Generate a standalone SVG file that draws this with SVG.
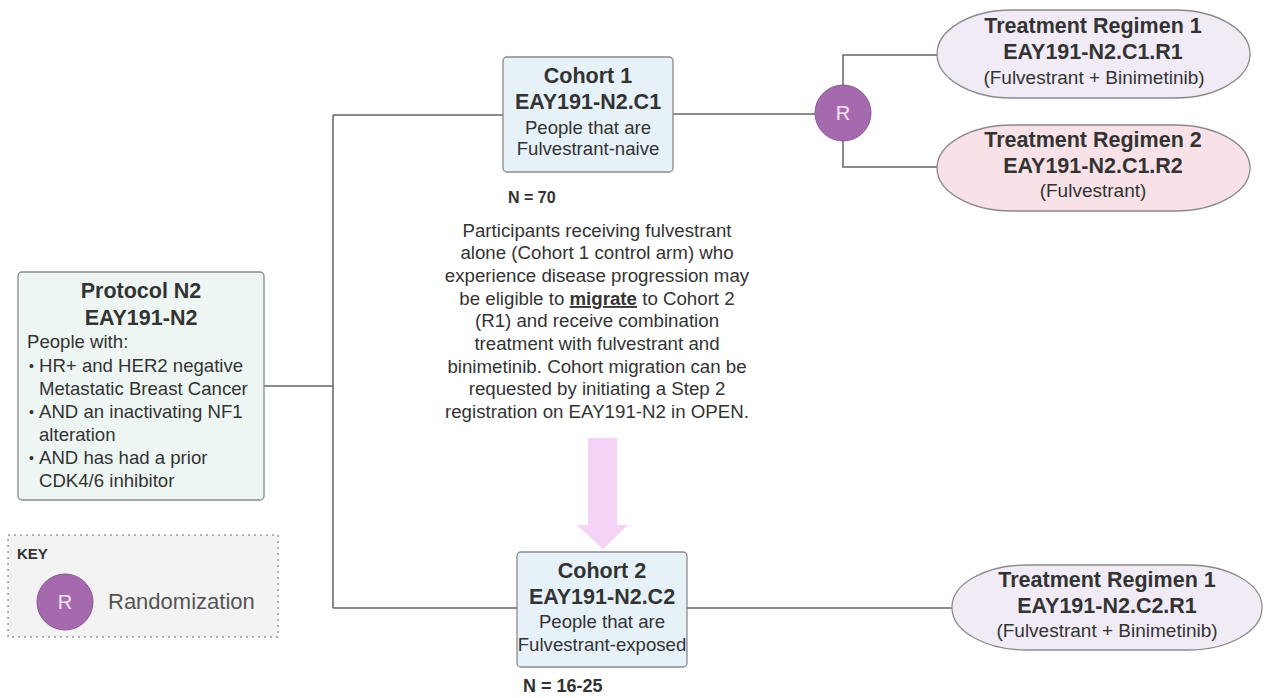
<svg xmlns="http://www.w3.org/2000/svg" width="1266" height="698" viewBox="0 0 1266 698">
<style>
text{font-family:"Liberation Sans",Arial,sans-serif;fill:#333;}
.t{font-size:21.5px;font-weight:bold;text-anchor:middle;}
.r{font-size:18.6px;text-anchor:middle;}
.s{font-size:19px;text-anchor:middle;}
.l{font-size:18.6px;}
.b{font-size:14px;}
.p{font-size:18.7px;text-anchor:middle;}
.n{font-size:16px;font-weight:bold;}
.n2{font-size:18px;font-weight:bold;}
.conn{fill:none;stroke:#666;stroke-width:1.5;}
.box{stroke:#8a8a8a;stroke-width:1.3;}
.rc{fill:#a56aae;stroke:#8d5597;stroke-width:1;}
.rt{font-size:20px;fill:#f5e4f5;text-anchor:middle;}
</style>
<rect width="1266" height="698" fill="#ffffff"/>
<g id="connectors">
<path class="conn" d="M264 386H333M333 115V608M333 115H503M333 608H517"/>
<path class="conn" d="M673 114H815M843 85V55H937M843 141V167H937"/>
<path class="conn" d="M687 608H952"/>
</g>
<g id="protocol">
<rect class="box" x="18" y="272" width="246" height="228" rx="4" fill="#eef6f4"/>
<text class="t" x="141" y="298">Protocol N2</text>
<text class="t" x="141" y="325">EAY191-N2</text>
<text class="l" x="27" y="348">People with:</text>
<text class="b" x="29" y="371">•</text>
<text class="l" x="39" y="372">HR+ and HER2 negative</text>
<text class="l" x="39" y="395">Metastatic Breast Cancer</text>
<text class="b" x="29" y="417">•</text>
<text class="l" x="39" y="418">AND an inactivating NF1</text>
<text class="l" x="39" y="441">alteration</text>
<text class="b" x="29" y="463">•</text>
<text class="l" x="39" y="464">AND has had a prior</text>
<text class="l" x="39" y="487">CDK4/6 inhibitor</text>
</g>
<g id="cohort1">
<rect class="box" x="503" y="57" width="170" height="115" rx="4" fill="#e6f1f8"/>
<text class="t" x="588" y="83">Cohort 1</text>
<text class="t" x="588" y="109">EAY191-N2.C1</text>
<text class="r" x="588" y="134">People that are</text>
<text class="r" x="588" y="155">Fulvestrant-naive</text>
<text class="n" x="508" y="203">N = 70</text>
</g>
<g id="migration-note">
<text class="p" x="597" y="237">Participants receiving fulvestrant</text>
<text class="p" x="597" y="259">alone (Cohort 1 control arm) who</text>
<text class="p" x="597" y="282">experience disease progression may</text>
<text class="p" x="597" y="305">be eligible to <tspan font-weight="bold" text-decoration="underline">migrate</tspan> to Cohort 2</text>
<text class="p" x="597" y="327">(R1) and receive combination</text>
<text class="p" x="597" y="350">treatment with fulvestrant and</text>
<text class="p" x="597" y="373">binimetinib. Cohort migration can be</text>
<text class="p" x="597" y="395">requested by initiating a Step 2</text>
<text class="p" x="597" y="418">registration on EAY191-N2 in OPEN.</text>
</g>
<g id="migrate-arrow">
<path d="M588 438H617V525H628L603 549L577 525H588Z" fill="#f4d3f6"/>
</g>
<g id="randomization">
<circle class="rc" cx="843" cy="113" r="28"/>
<text class="rt" x="843" y="120">R</text>
</g>
<g id="regimen-c1-r1">
<rect class="box" x="937" y="10" width="313" height="88" rx="75" ry="44" fill="#f1ebf6"/>
<text class="t" x="1093" y="33">Treatment Regimen 1</text>
<text class="t" x="1093" y="59">EAY191-N2.C1.R1</text>
<text class="s" x="1094" y="84">(Fulvestrant + Binimetinib)</text>
</g>
<g id="regimen-c1-r2">
<rect class="box" x="937" y="125" width="313" height="86" rx="75" ry="43" fill="#f8e2e7"/>
<text class="t" x="1093" y="147">Treatment Regimen 2</text>
<text class="t" x="1093" y="173">EAY191-N2.C1.R2</text>
<text class="s" x="1093" y="197">(Fulvestrant)</text>
</g>
<g id="cohort2">
<rect class="box" x="517" y="552" width="170" height="115" rx="4" fill="#e6f1f8"/>
<text class="t" x="602" y="578">Cohort 2</text>
<text class="t" x="602" y="604">EAY191-N2.C2</text>
<text class="r" x="602" y="628">People that are</text>
<text class="r" x="602" y="651">Fulvestrant-exposed</text>
<text class="n2" x="523" y="692">N = 16-25</text>
</g>
<g id="regimen-c2-r1">
<rect class="box" x="952" y="565" width="310" height="85" rx="75" ry="42" fill="#f1ebf6"/>
<text class="t" x="1107" y="587">Treatment Regimen 1</text>
<text class="t" x="1107" y="613">EAY191-N2.C2.R1</text>
<text class="s" x="1107" y="637">(Fulvestrant + Binimetinib)</text>
</g>
<g id="key">
<rect x="8" y="535" width="270" height="102" fill="#f3f3f3" stroke="#999" stroke-width="1.5" stroke-dasharray="2 4"/>
<text x="17" y="559" font-size="15" font-weight="bold">KEY</text>
<circle class="rc" cx="65" cy="602" r="28"/>
<text class="rt" x="65" y="609">R</text>
<text x="108" y="609" font-size="22" style="fill:#555">Randomization</text>
</g>
</svg>
